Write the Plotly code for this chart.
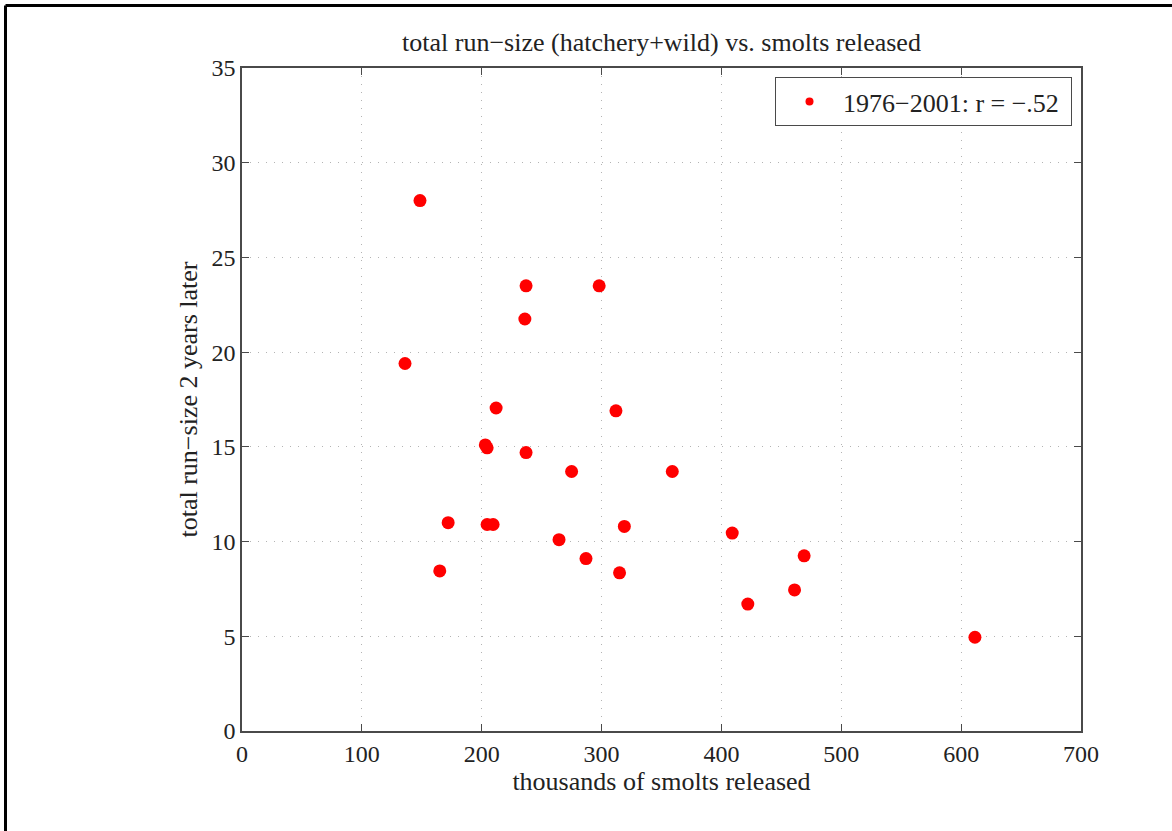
import plotly.graph_objects as go

smolts_thousands = [148.5, 136, 237, 298, 236, 212, 312, 203, 204.5, 237, 275, 359,
                    172, 204.5, 209.5, 319, 409, 264.5, 287, 469, 165, 315, 422, 461, 611.5]
run_size_2yr = [28.0, 19.4, 23.5, 23.5, 21.75, 17.05, 16.9, 15.1, 14.95, 14.7, 13.7, 13.7,
                11.0, 10.9, 10.9, 10.8, 10.45, 10.1, 9.1, 9.25, 8.45, 8.35, 6.7, 7.45, 4.95]
series_name = "1976−2001: r = −.52"
x_ticks = [0, 100, 200, 300, 400, 500, 600, 700]
y_ticks = [0, 5, 10, 15, 20, 25, 30, 35]

W, H = 1172, 831
L, R, T, B = 242, 1081, 68, 731

font = "Liberation Serif, Times New Roman, serif"

fig = go.Figure()
fig.add_trace(go.Scatter(
    x=smolts_thousands, y=run_size_2yr, mode="markers",
    marker=dict(color="#ff0000", size=13, line=dict(width=0)),
    name=series_name, showlegend=False, legendgroup="s",
))
# legend entry (smaller symbol, as in the reference legend)
fig.add_trace(go.Scatter(
    x=[None], y=[None], mode="markers",
    marker=dict(color="#ff0000", size=8, line=dict(width=0)),
    name=series_name + "\u00a0", showlegend=True, legendgroup="s",
))

axis_common = dict(
    showline=True, linecolor="#4a4a4a", linewidth=1.5, mirror="ticks",
    ticks="inside", ticklen=7, tickcolor="#4a4a4a", tickwidth=1,
    showgrid=True, gridcolor="#b4b4b4", griddash="1px,7px", gridwidth=1,
    zeroline=False, tickfont=dict(family=font, size=24, color="#222"),
)

fig.update_layout(
    width=W, height=H,
    margin=dict(l=L, r=W - R, t=T, b=H - B),
    paper_bgcolor="white", plot_bgcolor="white",
    title=dict(text="total run−size (hatchery+wild) vs. smolts released",
               x=(L + R) / 2 / W, xanchor="center", y=1 - 42 / H, yanchor="middle",
               font=dict(family=font, size=26, color="#222")),
    xaxis=dict(range=[0, 700], tickvals=x_ticks, **axis_common,
               title=dict(text="thousands of smolts released", standoff=2,
                          font=dict(family=font, size=26, color="#222"))),
    yaxis=dict(range=[0, 35], tickvals=y_ticks, **axis_common,
               title=dict(text="total run−size 2 years later", standoff=6,
                          font=dict(family=font, size=26, color="#222"))),
    showlegend=True,
    legend=dict(x=(1072 - L) / (R - L), xanchor="right", y=(B - 77) / (B - T), yanchor="top",
                bgcolor="white", bordercolor="#4a4a4a", borderwidth=1,
                font=dict(family=font, size=26, color="#222"),
                itemsizing="trace", itemwidth=57, tracegroupgap=0),
)

# outer black frame (top and left edges visible in reference)
def px(xp):
    return (xp - L) / (R - L)

def py(yp):
    return (B - yp) / (B - T)

fig.add_shape(type="line", xref="paper", yref="paper",
              x0=px(5.5), x1=px(1172), y0=py(5.5), y1=py(5.5),
              line=dict(color="black", width=3))
fig.add_shape(type="line", xref="paper", yref="paper",
              x0=px(5.5), x1=px(5.5), y0=py(5.5), y1=py(831),
              line=dict(color="black", width=3))

fig.write_html("out.html", config={"displayModeBar": False},
               post_script="document.documentElement.style.margin='0';document.body.style.margin='0';document.body.style.overflow='hidden';document.body.style.background='white';")
